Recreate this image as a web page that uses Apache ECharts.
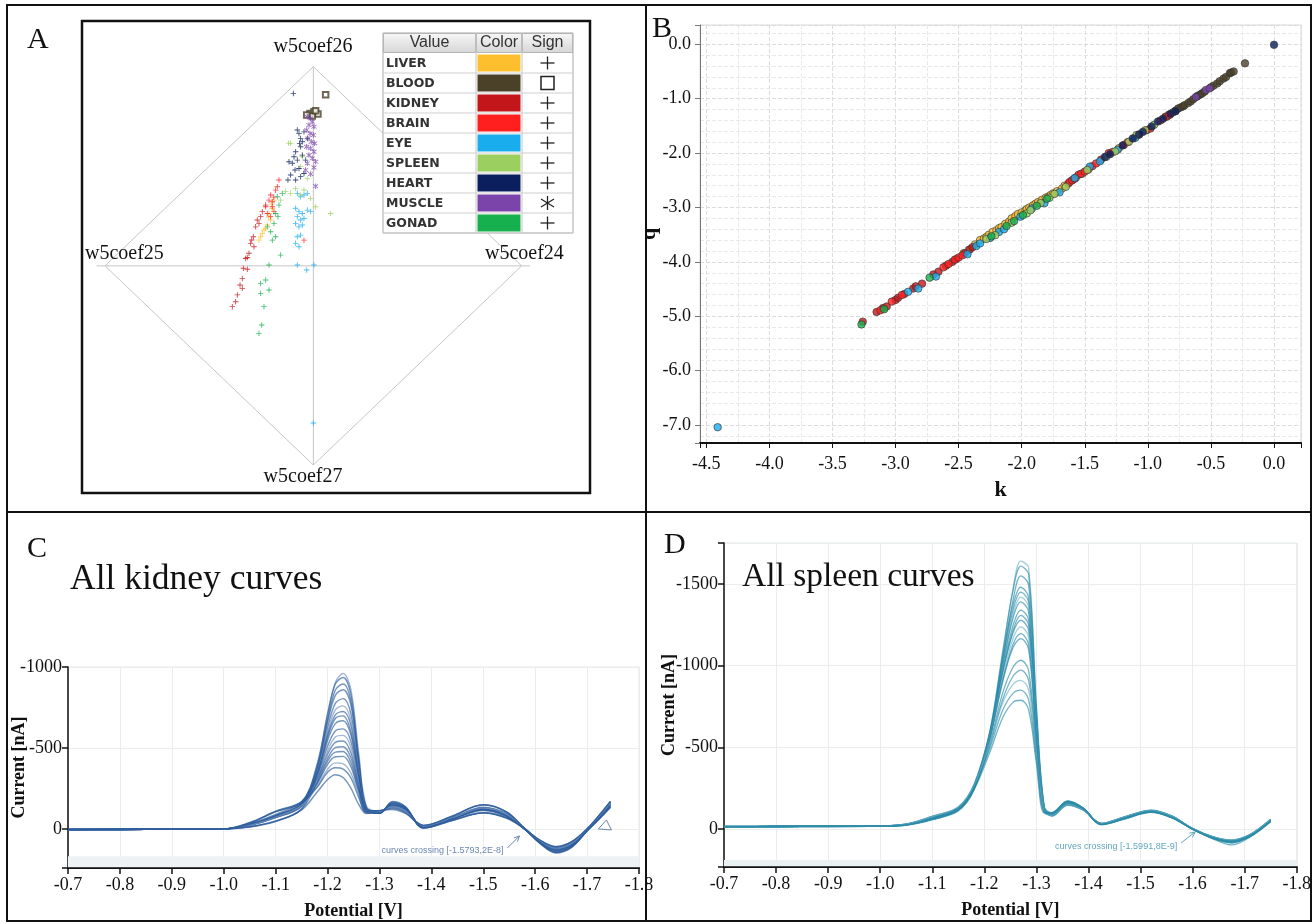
<!DOCTYPE html>
<html><head><meta charset="utf-8">
<script src="https://cdn.jsdelivr.net/npm/echarts@6/dist/echarts.min.js"></script>
<style>html,body{margin:0;padding:0;background:#fff}#c{width:1314px;height:924px}</style>
</head><body><div id="c"></div>
<script>
const SERIF = '"Liberation Serif","DejaVu Serif",serif';
const SANS = '"Liberation Sans","DejaVu Sans",sans-serif';

// ---------- Panel A : radviz projection ----------
const tissues = ['LIVER','BLOOD','KIDNEY','BRAIN','EYE','SPLEEN','HEART','MUSCLE','GONAD'];
const tissueColors = ['#FDBF2D','#4B4128','#C3161B','#FF1F1F','#1AADEE','#9BD061','#0B1F5E','#7A44AA','#16B04E'];
const tissueSigns = ['plus','square','plus','plus','plus','plus','plus','star','plus'];
const radvizAnchors = ['w5coef26','w5coef25','w5coef24','w5coef27'];
const diamond = [[-1,0],[0,1],[1,0],[0,-1],[-1,0]];
const hAxisLine = [[-1.04,0],[1.04,0]];
const vAxisLine = [[0,1],[0,-1]];

const aLiver = [[-0.197,0.288],[-0.213,0.263],[-0.205,0.230],[-0.221,0.205],[-0.237,0.180],[-0.253,0.146],[-0.245,0.163],[-0.229,0.188],[-0.189,0.330],[-0.261,0.129],[-0.215,0.245],[-0.200,0.310]];
const aBlood = [[0.059,0.859],[-0.016,0.765],[0.003,0.774],[0.022,0.762],[-0.005,0.752],[0.011,0.779],[-0.032,0.757]];
const aKidney = [[-0.229,0.305],[-0.245,0.272],[-0.269,0.230],[-0.277,0.196],[-0.288,0.146],[-0.301,0.113],[-0.285,0.096],[-0.309,0.063],[-0.325,0.037],[-0.336,-0.012],[-0.317,-0.017],[-0.341,-0.063],[-0.352,-0.096],[-0.341,-0.113],[-0.365,-0.146],[-0.373,-0.180],[-0.389,-0.205],[-0.253,0.247],[-0.261,0.213],[-0.317,0.042],[-0.296,0.130]];
const aBrain = [[-0.173,0.397],[-0.181,0.380],[-0.205,0.356],[-0.213,0.330],[-0.197,0.297],[-0.189,0.272],[-0.205,0.247],[-0.221,0.263],[-0.197,0.322],[-0.165,0.431],[-0.229,0.297],[-0.045,0.129],[-0.190,0.345]];
const aEye = [[-0.077,0.364],[-0.061,0.347],[-0.045,0.356],[-0.085,0.289],[-0.069,0.272],[-0.053,0.263],[-0.077,0.247],[-0.061,0.230],[-0.045,0.238],[-0.085,0.213],[-0.069,0.196],[-0.053,0.205],[-0.029,0.280],[-0.013,0.272],[-0.077,0.146],[-0.061,0.154],[-0.085,0.113],[-0.069,0.096],[-0.029,0.364],[-0.077,0.004],[-0.032,-0.021],[0.003,0.004],[0.0,-0.789]];
const aSpleen = [[-0.109,0.615],[-0.053,0.548],[-0.085,0.389],[-0.109,0.364],[-0.061,0.356],[-0.013,0.339],[0.011,0.297],[0.083,0.263],[-0.045,0.381],[-0.029,0.439],[-0.133,0.373],[-0.157,0.330],[-0.061,0.498],[-0.119,0.616]];
const aHeart = [[-0.096,0.866],[-0.077,0.682],[-0.069,0.665],[-0.061,0.640],[-0.066,0.615],[-0.085,0.573],[-0.093,0.548],[-0.101,0.515],[-0.077,0.531],[-0.061,0.598],[-0.053,0.623],[-0.088,0.481],[-0.109,0.456],[-0.122,0.431],[-0.085,0.431],[-0.069,0.489],[-0.045,0.673],[-0.029,0.640],[-0.053,0.556],[-0.037,0.531],[-0.061,0.448],[-0.117,0.523],[-0.045,0.464]];
const aMuscle = [[-0.029,0.749],[-0.013,0.740],[-0.005,0.724],[-0.021,0.707],[0.003,0.699],[-0.032,0.682],[-0.016,0.665],[0.0,0.657],[-0.026,0.640],[-0.010,0.623],[0.006,0.615],[-0.032,0.598],[-0.013,0.590],[0.003,0.573],[-0.021,0.556],[-0.005,0.540],[0.011,0.523],[-0.029,0.515],[0.003,0.494],[0.011,0.400],[-0.013,0.461],[-0.037,0.481]];
const aGonad = [[-0.173,0.347],[-0.165,0.305],[-0.181,0.263],[-0.170,0.247],[-0.189,0.213],[-0.205,0.171],[-0.181,0.146],[-0.197,0.129],[-0.157,0.054],[-0.213,0.004],[-0.253,-0.088],[-0.229,-0.071],[-0.213,-0.121],[-0.253,-0.138],[-0.237,-0.205],[-0.248,-0.297],[-0.261,-0.339],[-0.149,0.364],[-0.221,0.196]];
const aData = [aLiver,aBlood,aKidney,aBrain,aEye,aSpleen,aHeart,aMuscle,aGonad];

// ---------- Panel B : k vs q ----------
const bLiver = [[-2.46,-3.84],[-2.42,-3.78],[-2.37,-3.68],[-2.33,-3.60],[-2.30,-3.57],[-2.28,-3.54],[-2.26,-3.50],[-2.23,-3.45],[-2.20,-3.42],[-2.18,-3.38],[-2.16,-3.36],[-2.13,-3.30],[-2.10,-3.26],[-2.08,-3.20],[-2.05,-3.16],[-2.03,-3.12],[-2.00,-3.09],[-1.97,-3.05],[-1.96,-3.03],[-1.94,-3.00],[-1.91,-2.96],[-1.89,-2.93],[-1.87,-2.90],[-1.84,-2.86],[-1.81,-2.82],[-1.79,-2.80],[-1.77,-2.77],[-1.75,-2.74],[-1.72,-2.70],[-1.68,-2.65],[-1.66,-2.60],[-1.60,-2.50],[-1.57,-2.45],[-1.52,-2.38],[-1.47,-2.30],[-1.23,-1.91]];
const bBlood = [[-0.86,-1.33],[-0.83,-1.29],[-0.80,-1.25],[-0.78,-1.22],[-0.76,-1.18],[-0.74,-1.16],[-0.72,-1.14],[-0.71,-1.12],[-0.68,-1.08],[-0.66,-1.05],[-0.64,-1.01],[-0.61,-0.96],[-0.60,-0.94],[-0.58,-0.92],[-0.57,-0.90],[-0.55,-0.87],[-0.50,-0.79],[-0.48,-0.76],[-0.45,-0.72],[-0.43,-0.68],[-0.40,-0.63],[-0.38,-0.60],[-0.35,-0.53],[-0.34,-0.52],[-0.32,-0.50],[-0.23,-0.35]];
const bKidney = [[-3.26,-5.10],[-3.15,-4.92],[-3.10,-4.85],[-3.07,-4.82],[-3.00,-4.70],[-2.98,-4.66],[-2.93,-4.59],[-2.86,-4.49],[-2.84,-4.45],[-2.79,-4.40],[-2.70,-4.23],[-2.66,-4.18],[-2.60,-4.07],[-2.55,-4.00],[-2.52,-3.95],[-2.45,-3.84],[-2.41,-3.77],[-2.39,-3.73]];
const bBrain = [[-3.12,-4.89],[-3.03,-4.73],[-2.95,-4.61],[-2.62,-4.10],[-2.58,-4.04],[-2.53,-3.96],[-2.50,-3.92],[-2.47,-3.88],[-1.63,-2.56],[-1.62,-2.53],[-1.60,-2.50],[-1.58,-2.47],[-1.55,-2.40],[-1.53,-2.38],[-1.50,-2.34],[-1.44,-2.24],[-1.41,-2.19],[-1.37,-2.12],[-1.31,-2.00],[-1.28,-1.98],[-1.19,-1.85],[-1.16,-1.80],[-1.07,-1.66],[-1.01,-1.58],[-0.98,-1.55],[-0.90,-1.40],[-0.85,-1.33],[-0.83,-1.30]];
const bEye = [[-4.41,-7.04],[-2.90,-4.55],[-2.82,-4.49],[-2.68,-4.27],[-2.43,-3.86],[-2.36,-3.71],[-2.33,-3.66],[-2.25,-3.56],[-2.18,-3.45],[-2.14,-3.40],[-2.01,-3.17],[-1.92,-3.02],[-1.82,-2.92],[-1.70,-2.72],[-1.58,-2.46],[-1.46,-2.25],[-1.38,-2.15],[-1.24,-1.94],[-1.10,-1.72]];
const bSpleen = [[-2.28,-3.58],[-2.21,-3.51],[-2.08,-3.28],[-1.96,-3.11],[-1.93,-3.05],[-1.85,-2.92],[-1.78,-2.82],[-1.74,-2.75],[-1.65,-2.62],[-1.48,-2.31],[-1.33,-2.07],[-1.26,-1.97],[-1.15,-1.79],[-1.09,-1.67],[-1.02,-1.58],[-0.95,-1.48]];
const bHeart = [[0.0,-0.01],[-1.34,-2.07],[-1.30,-2.02],[-1.20,-1.86],[-1.12,-1.73],[-1.07,-1.66],[-1.04,-1.61],[-0.97,-1.51],[-0.92,-1.42],[-0.88,-1.37],[-0.82,-1.28],[-0.78,-1.23]];
const bMuscle = [[-0.62,-0.97],[-0.54,-0.84],[-0.51,-0.81]];
const bGonad = [[-3.27,-5.15],[-3.09,-4.87],[-2.73,-4.29],[-2.24,-3.53],[-2.12,-3.34],[-2.06,-3.25],[-1.99,-3.14],[-1.88,-2.97],[-1.80,-2.84]];
const bData = [bLiver,bBlood,bKidney,bBrain,bEye,bSpleen,bHeart,bMuscle,bGonad];

// ---------- Panel C : all kidney curves ----------
const potentialC = [-0.70,-0.80,-0.90,-1.00,-1.05,-1.10,-1.15,-1.18,-1.20,-1.215,-1.23,-1.245,-1.26,-1.275,-1.30,-1.325,-1.35,-1.385,-1.44,-1.50,-1.545,-1.58,-1.61,-1.64,-1.67,-1.70,-1.725,-1.745];
const kidneyCurves = [
 [4,3,2,0,-25,-75,-150,-390,-700,-905,-960,-860,-470,-140,-105,-145,-120,-15,-65,-125,-85,0,80,125,95,5,-80,-160],
 [4,3,2,0,-28,-82,-158,-400,-710,-895,-935,-830,-440,-132,-100,-150,-125,-12,-62,-120,-80,1,85,132,100,8,-75,-150],
 [3,3,1,0,-22,-70,-142,-372,-672,-858,-895,-790,-418,-126,-110,-138,-112,-18,-68,-132,-92,-2,75,118,86,2,-86,-166],
 [3,2,2,0,-36,-105,-165,-380,-660,-825,-860,-765,-405,-128,-96,-160,-132,-8,-55,-100,-70,0,88,140,108,10,-70,-140],
 [3,3,2,0,-14,-50,-125,-360,-625,-775,-805,-710,-380,-122,-112,-135,-108,-20,-78,-150,-104,-1,72,112,82,0,-90,-170],
 [4,3,2,0,-26,-78,-150,-350,-600,-735,-760,-670,-360,-120,-104,-152,-126,-10,-64,-122,-84,2,82,128,98,6,-78,-152],
 [3,3,2,0,-24,-74,-146,-345,-580,-705,-725,-640,-345,-118,-108,-142,-118,-14,-66,-128,-88,0,78,122,92,4,-82,-158],
 [3,2,1,0,-38,-108,-168,-340,-565,-682,-698,-600,-335,-116,-98,-165,-135,-6,-52,-98,-66,1,90,145,112,12,-68,-136],
 [4,3,2,0,-22,-70,-140,-330,-545,-650,-668,-580,-320,-114,-110,-132,-106,-20,-70,-134,-94,-2,74,115,84,1,-88,-164],
 [3,3,2,0,-27,-80,-152,-320,-510,-605,-618,-540,-300,-112,-102,-148,-122,-12,-63,-120,-82,1,84,130,100,7,-76,-148],
 [3,3,2,0,-25,-76,-148,-310,-482,-568,-578,-505,-285,-110,-106,-140,-115,-15,-66,-126,-87,0,79,124,94,4,-81,-156],
 [4,3,1,0,-40,-110,-170,-308,-460,-535,-543,-470,-270,-108,-96,-170,-138,-5,-52,-100,-68,2,92,148,115,13,-66,-132],
 [3,2,2,0,-13,-48,-122,-290,-435,-502,-508,-440,-255,-106,-112,-126,-100,-22,-78,-148,-104,-3,72,110,80,0,-90,-168],
 [3,3,2,0,-26,-78,-150,-285,-418,-474,-478,-410,-240,-104,-104,-146,-120,-13,-64,-122,-84,1,81,127,97,5,-79,-152],
 [4,3,2,0,-29,-84,-156,-278,-398,-446,-448,-385,-228,-103,-100,-155,-128,-9,-61,-118,-80,1,86,135,104,9,-73,-144],
 [3,3,2,0,-23,-72,-144,-262,-368,-408,-402,-345,-210,-101,-108,-136,-110,-17,-68,-130,-90,-1,76,118,88,3,-84,-162],
 [3,2,2,0,-31,-90,-162,-258,-350,-378,-370,-315,-195,-100,-98,-158,-130,-7,-59,-114,-76,0,88,142,110,11,-70,-138],
 [3,3,2,0,-12,-45,-118,-228,-305,-335,-318,-252,-152,-95,-114,-120,-96,-22,-80,-150,-106,-3,70,108,78,-1,-92,-172]
];

// ---------- Panel D : all spleen curves ----------
const potentialD = [-0.70,-0.80,-0.90,-1.00,-1.05,-1.10,-1.15,-1.18,-1.21,-1.235,-1.255,-1.27,-1.285,-1.30,-1.315,-1.33,-1.36,-1.39,-1.425,-1.47,-1.52,-1.56,-1.60,-1.64,-1.675,-1.71,-1.75];
const spleenCurves = [
 [-14,-15,-16,-18,-25,-62,-118,-245,-560,-1060,-1470,-1640,-1600,-760,-140,-95,-165,-125,-30,-68,-108,-72,0,55,78,42,-52],
 [-15,-15,-16,-19,-28,-70,-128,-260,-585,-1080,-1460,-1610,-1560,-740,-135,-80,-150,-118,-32,-72,-112,-76,-2,50,72,38,-58],
 [-14,-15,-15,-17,-24,-58,-112,-240,-560,-1030,-1400,-1550,-1495,-710,-130,-100,-170,-128,-28,-64,-104,-70,1,58,82,45,-48],
 [-15,-16,-16,-18,-30,-75,-132,-268,-590,-1050,-1370,-1480,-1420,-680,-128,-78,-145,-115,-34,-75,-115,-80,-2,48,68,35,-60],
 [-14,-15,-16,-18,-26,-64,-120,-250,-570,-1020,-1340,-1450,-1390,-665,-125,-92,-160,-122,-30,-70,-110,-74,0,54,76,40,-54],
 [-14,-15,-15,-17,-23,-56,-110,-238,-545,-990,-1310,-1420,-1360,-650,-122,-98,-168,-126,-27,-62,-102,-68,1,60,85,48,-46],
 [-15,-16,-17,-19,-29,-72,-130,-262,-575,-1000,-1290,-1390,-1330,-640,-120,-84,-152,-118,-33,-73,-113,-78,-1,50,70,36,-58],
 [-14,-15,-16,-18,-27,-66,-124,-255,-560,-970,-1245,-1340,-1280,-620,-118,-90,-158,-121,-30,-69,-109,-73,0,55,77,41,-53],
 [-14,-15,-16,-17,-25,-60,-116,-246,-548,-950,-1215,-1308,-1250,-605,-116,-96,-165,-124,-29,-66,-106,-71,1,57,80,43,-50],
 [-15,-15,-16,-18,-31,-78,-135,-272,-580,-960,-1200,-1278,-1215,-590,-114,-82,-148,-116,-34,-74,-114,-79,-2,49,69,35,-59],
 [-14,-15,-16,-18,-26,-63,-120,-250,-555,-925,-1165,-1238,-1175,-575,-112,-94,-162,-123,-30,-68,-108,-72,0,56,78,42,-52],
 [-14,-15,-15,-17,-24,-58,-114,-242,-540,-900,-1130,-1196,-1130,-560,-110,-99,-170,-127,-27,-63,-103,-69,1,60,86,48,-46],
 [-15,-16,-17,-19,-28,-70,-128,-262,-560,-905,-1110,-1165,-1100,-545,-108,-86,-154,-119,-33,-72,-112,-77,-1,51,72,37,-57],
 [-14,-15,-16,-18,-27,-66,-124,-252,-520,-830,-990,-1033,-970,-500,-106,-92,-160,-122,-30,-69,-108,-73,0,54,76,40,-54],
 [-14,-15,-16,-18,-25,-61,-118,-245,-505,-790,-935,-972,-910,-480,-104,-97,-166,-125,-29,-65,-105,-70,1,57,80,44,-50],
 [-15,-15,-16,-18,-30,-75,-134,-265,-520,-770,-885,-910,-850,-460,-102,-84,-150,-117,-34,-74,-114,-79,-2,48,66,34,-60],
 [-14,-15,-16,-18,-26,-64,-122,-250,-490,-725,-830,-850,-790,-430,-100,-94,-162,-123,-30,-68,-107,-72,0,55,78,42,-52],
 [-14,-15,-15,-17,-24,-58,-116,-240,-465,-680,-775,-788,-730,-400,-98,-100,-172,-128,-26,-62,-101,-68,1,62,98,50,-45]
];
const crossingC = [-1.5793, 0];
const crossingD = [-1.5991, 0];
const crossingTextC = 'curves crossing [-1.5793,2E-8]';
const crossingTextD = 'curves crossing [-1.5991,8E-9]';

// ---------- helpers ----------
function isMult(v, s){ return Math.abs(v/s - Math.round(v/s)) < 1e-6; }
const symbolPaths = {
  plus: 'path://M0,4.2H10V5.8H0Z M4.2,0H5.8V10H4.2Z',
  star: 'path://M4.2,0H5.8V10H4.2Z M0.5,2.3L1.2,1.1L9.5,7.7L8.8,8.9Z M0.5,7.7L1.2,8.9L9.5,2.3L8.8,1.1Z',
  square: 'emptyRect'
};

const chart = echarts.init(document.getElementById('c'), null, {renderer:'canvas'});

const series = [];
[diamond, hAxisLine, vAxisLine].forEach(d => series.push({
  type:'line', xAxisIndex:0, yAxisIndex:0, data:d, symbol:'none', silent:true,
  lineStyle:{color:'#c6c6c6', width:1}, z:1
}));
tissues.forEach((t,i) => series.push({
  type:'scatter', name:t, xAxisIndex:0, yAxisIndex:0, data:aData[i],
  symbol: symbolPaths[tissueSigns[i]], symbolSize: 5.5,
  itemStyle: tissueSigns[i]==='square' ? {color:tissueColors[i], borderColor:tissueColors[i], borderWidth:1} : {color:tissueColors[i]},
  z:3
}));
tissues.forEach((t,i) => series.push({
  type:'scatter', name:'B-'+t, xAxisIndex:1, yAxisIndex:1, data:bData[i], clip:false,
  symbol:'circle', symbolSize:7.5,
  itemStyle:{color:tissueColors[i], borderColor:'#333', borderWidth:0.8}, z:3
}));
kidneyCurves.forEach((c,j) => series.push({
  type:'line', xAxisIndex:2, yAxisIndex:2, smooth:0.35, symbol:'none', silent:true,
  data: potentialC.map((x,i)=>[x,c[i]]),
  lineStyle:{color: (j%5===0)?'#6f8fbd':'#2a5b9b', width:1.4, opacity:0.65}, z:2
}));
spleenCurves.forEach((c,j) => series.push({
  type:'line', xAxisIndex:3, yAxisIndex:3, smooth:0.35, symbol:'none', silent:true,
  data: potentialD.map((x,i)=>[x,c[i]]),
  lineStyle:{color: (j%5===0)?'#6fb0c6':'#2a8aa8', width:1.3, opacity:0.65}, z:2
}));

const tickLbl = {fontFamily:SERIF, fontSize:18, color:'#111'};
const nameStyle = {fontFamily:SERIF, fontSize:18, fontWeight:'bold', color:'#111'};

const option = {
  animation:false,
  backgroundColor:'#fff',
  grid:[
    {left:96.7, top:66.7, width:433.3, height:398.3},
    {left:700, top:25, width:601, height:418, show:true, borderColor:'#d8d8d8', borderWidth:1, backgroundColor:'#fff'},
    {left:68, top:667, width:571, height:201, show:true, borderColor:'#e3e8ec', borderWidth:1},
    {left:724, top:543, width:574, height:324, show:true, borderColor:'#dfe9ee', borderWidth:1}
  ],
  xAxis:[
    {gridIndex:0, type:'value', min:-1.04, max:1.04, show:false},
    {gridIndex:1, type:'value', min:-4.55, max:0.214, minInterval:0.5, maxInterval:0.5,
     name:'k', nameLocation:'middle', nameGap:36, nameMoveOverlap:false, nameTextStyle:{fontFamily:SERIF, fontSize:22, fontWeight:'bold', color:'#111'},
     axisLine:{onZero:false, lineStyle:{color:'#111', width:2}},
     axisTick:{show:true, length:5, lineStyle:{color:'#111'}},
     axisLabel:{...tickLbl, margin:12, formatter:v=>isMult(v,0.5)?v.toFixed(1):''},
     splitLine:{show:true, lineStyle:{color:'#dcdcdc', type:'dashed'}},
     minorTick:{show:false, splitNumber:2},
     minorSplitLine:{show:true, lineStyle:{color:'#e9e9e9', type:'dashed'}}},
    {gridIndex:2, type:'value', min:-1.8, max:-0.7, interval:0.1, inverse:true,
     name:'Potential [V]', nameLocation:'middle', nameGap:34, nameMoveOverlap:false, nameTextStyle:nameStyle,
     axisLine:{onZero:false, lineStyle:{color:'#111', width:2}},
     axisTick:{show:true, length:6, lineStyle:{color:'#111', width:1.5}},
     axisLabel:{...tickLbl, margin:8, formatter:v=>v.toFixed(1)},
     splitLine:{show:true, lineStyle:{color:'#ececec'}}},
    {gridIndex:3, type:'value', min:-1.8, max:-0.7, interval:0.1, inverse:true,
     name:'Potential [V]', nameLocation:'middle', nameGap:34, nameMoveOverlap:false, nameTextStyle:nameStyle,
     axisLine:{onZero:false, lineStyle:{color:'#111', width:2}},
     axisTick:{show:true, length:6, lineStyle:{color:'#111', width:1.5}},
     axisLabel:{...tickLbl, margin:8, formatter:v=>v.toFixed(1)},
     splitLine:{show:true, lineStyle:{color:'#ececec'}}}
  ],
  yAxis:[
    {gridIndex:0, type:'value', min:-1, max:1, show:false},
    {gridIndex:1, type:'value', min:-7.33, max:0.355, minInterval:1, maxInterval:1,
     name:'q', nameLocation:'middle', nameGap:40, nameRotate:90, nameMoveOverlap:false, nameTextStyle:{fontFamily:SERIF, fontSize:22, fontWeight:'bold', color:'#111'},
     axisLine:{onZero:false, lineStyle:{color:'#777', width:1}},
     axisTick:{show:true, length:5, lineStyle:{color:'#777'}},
     axisLabel:{...tickLbl, margin:9, formatter:v=>isMult(v,1)?v.toFixed(1):''},
     splitLine:{show:true, lineStyle:{color:'#dcdcdc', type:'dashed'}},
     minorTick:{show:false, splitNumber:5},
     minorSplitLine:{show:true, lineStyle:{color:'#e9e9e9', type:'dashed'}}},
    {gridIndex:2, type:'value', min:-1000, max:241, minInterval:500, maxInterval:500, inverse:true,
     name:'Current [nA]', nameLocation:'middle', nameGap:40, nameMoveOverlap:false, nameTextStyle:nameStyle,
     axisLine:{onZero:false, lineStyle:{color:'#111', width:1.5}},
     axisTick:{show:true, length:6, lineStyle:{color:'#111', width:1.5}},
     axisLabel:{...tickLbl, margin:6, formatter:v=>isMult(v,500)?String(Math.round(v)):''},
     splitLine:{show:true, lineStyle:{color:'#ececec'}}},
    {gridIndex:3, type:'value', min:-1751, max:233, minInterval:500, maxInterval:500, inverse:true,
     name:'Current [nA]', nameLocation:'middle', nameGap:46, nameMoveOverlap:false, nameTextStyle:nameStyle,
     axisLine:{onZero:false, lineStyle:{color:'#111', width:1.5}},
     axisTick:{show:true, length:6, lineStyle:{color:'#111', width:1.5}},
     axisLabel:{...tickLbl, margin:6, formatter:v=>isMult(v,500)?String(Math.round(v)):''},
     splitLine:{show:true, lineStyle:{color:'#ececec'}}}
  ],
  series: series
};
chart.setOption(option);

// ---------- decorations ----------
const G = [];
function txt(x,y,s,font,opts){ return {type:'text', x:x, y:y, z:60, style:Object.assign({text:s, font:font, fill:'#111', textAlign:'left', textVerticalAlign:'middle'}, opts||{})}; }
function ln(x1,y1,x2,y2,stroke,w,z){ return {type:'line', z:z||60, shape:{x1,y1,x2,y2}, style:{stroke:stroke, lineWidth:w}}; }

G.push({type:'rect', z:70, shape:{x:7,y:5,width:1304,height:916}, style:{fill:'none', stroke:'#111', lineWidth:2}});
G.push(ln(646,5,646,921,'#111',2,70));
G.push(ln(7,512,1311,512,'#111',2,70));
G.push({type:'rect', z:70, shape:{x:82,y:21,width:508,height:472}, style:{fill:'none', stroke:'#111', lineWidth:2.5}});
G.push(txt(27,40,'A','30px '+SERIF));
G.push(txt(652,29,'B','30px '+SERIF));
G.push(txt(27,549,'C','30px '+SERIF));
G.push(txt(664,545,'D','30px '+SERIF));
G.push(txt(313,47,radvizAnchors[0],'20px '+SERIF,{textAlign:'center'}));
G.push(txt(85,254,radvizAnchors[1],'20px '+SERIF));
G.push(txt(485,254,radvizAnchors[2],'20px '+SERIF));
G.push(txt(303,477,radvizAnchors[3],'20px '+SERIF,{textAlign:'center'}));
G.push(txt(70,580,'All kidney curves','35.5px '+SERIF));
G.push(txt(742,577,'All spleen curves','33.5px '+SERIF));

// legend table in A
const tx0=383, tx1=476, tx2=522, tx3=573, ty0=33, tyH=53, rowH=20;
const tyEnd = tyH + rowH*tissues.length;
G.push({type:'rect', z:50, shape:{x:tx0,y:ty0,width:tx3-tx0,height:tyEnd-ty0}, style:{fill:'#fff', stroke:'#a9a9a9', lineWidth:1}});
[[tx0,tx1],[tx1,tx2],[tx2,tx3]].forEach(([a,b])=>{
  G.push({type:'rect', z:51, shape:{x:a+0.5,y:ty0+0.5,width:b-a-1,height:tyH-ty0-1},
    style:{fill:new echarts.graphic.LinearGradient(0,0,0,1,[{offset:0,color:'#f7f7f7'},{offset:1,color:'#d6d6d6'}]), stroke:'#b5b5b5', lineWidth:1}});
});
G.push(txt((tx0+tx1)/2,43,'Value','16px '+SANS,{textAlign:'center', fill:'#333'}));
G.push(txt((tx1+tx2)/2,43,'Color','16px '+SANS,{textAlign:'center', fill:'#333'}));
G.push(txt((tx2+tx3)/2,43,'Sign','16px '+SANS,{textAlign:'center', fill:'#333'}));
G.push(ln(tx1,ty0,tx1,tyEnd,'#c4c4c4',1,52));
G.push(ln(tx2,ty0,tx2,tyEnd,'#c4c4c4',1,52));
tissues.forEach((t,i)=>{
  const y = tyH + i*rowH, cy = y + rowH/2;
  G.push(ln(tx0,y+rowH,tx3,y+rowH,'#cfcfcf',1,52));
  G.push(txt(tx0+3,cy+0.5,t,'bold 12.5px "DejaVu Sans",sans-serif',{fill:'#333'}));
  G.push({type:'rect', z:53, shape:{x:tx1+1.5,y:y+1.5,width:tx2-tx1-3,height:rowH-3}, style:{fill:tissueColors[i]}});
  const sx = (tx2+tx3)/2;
  if (tissueSigns[i]==='plus') {
    G.push(ln(sx-7,cy,sx+7,cy,'#222',1.3,53)); G.push(ln(sx,cy-6.5,sx,cy+6.5,'#222',1.3,53));
  } else if (tissueSigns[i]==='square') {
    G.push({type:'rect', z:53, shape:{x:sx-6.5,y:cy-6.5,width:13,height:13}, style:{fill:'none', stroke:'#222', lineWidth:1.5}});
  } else {
    G.push(ln(sx,cy-7,sx,cy+7,'#222',1.3,53)); G.push(ln(sx-6.5,cy-4,sx+6.5,cy+4,'#222',1.3,53)); G.push(ln(sx-6.5,cy+4,sx+6.5,cy-4,'#222',1.3,53));
  }
});

function band(gi, ytopVal, ybotVal, color){
  const p1 = chart.convertToPixel({gridIndex:gi}, [-0.7, ytopVal]);
  const p2 = chart.convertToPixel({gridIndex:gi}, [-1.8, ybotVal]);
  return {type:'rect', z:1, silent:true, shape:{x:p1[0], y:p1[1], width:p2[0]-p1[0], height:p2[1]-p1[1]}, style:{fill:color}};
}
G.push(band(2, 168, 236, '#eef2f5'));
G.push(band(3, 190, 228, '#e9f1f3'));

function crossing(gi, pt, text, color, tip, tail, tpos){
  const p = chart.convertToPixel({gridIndex:gi}, pt);
  const tx = p[0]+tip[0], ty = p[1]+tip[1], bx = p[0]+tail[0], by = p[1]+tail[1];
  const ang = Math.atan2(ty-by, tx-bx);
  const h = 6, a1 = ang + Math.PI - 0.45, a2 = ang + Math.PI + 0.45;
  return [
    ln(bx,by,tx,ty,color,1,40),
    {type:'polyline', z:40, shape:{points:[[tx+h*Math.cos(a1),ty+h*Math.sin(a1)],[tx,ty],[tx+h*Math.cos(a2),ty+h*Math.sin(a2)]]}, style:{stroke:color, lineWidth:1, fill:'none'}},
    txt(p[0]+tpos[0], p[1]+tpos[1], text, '9px '+SANS, {fill:color, textAlign:'right'})
  ];
}
crossing(2, crossingC, crossingTextC, '#6a86b4', [-5,7], [-17,19], [-21,22]).forEach(e=>G.push(e));
crossing(3, crossingD, crossingTextD, '#5fa6bd', [3,3], [-11,14], [-15,18]).forEach(e=>G.push(e));
(function(){
  const p = chart.convertToPixel({gridIndex:2}, [-1.745, 0]);
  G.push({type:'polyline', z:40, shape:{points:[[p[0]-4,p[1]-9],[p[0]-12,p[1]],[p[0]+1,p[1]+1],[p[0]-4,p[1]-9]]}, style:{stroke:'#6a86b4', lineWidth:1, fill:'none'}});
})();

chart.setOption({graphic: G});
</script>
</body></html>
